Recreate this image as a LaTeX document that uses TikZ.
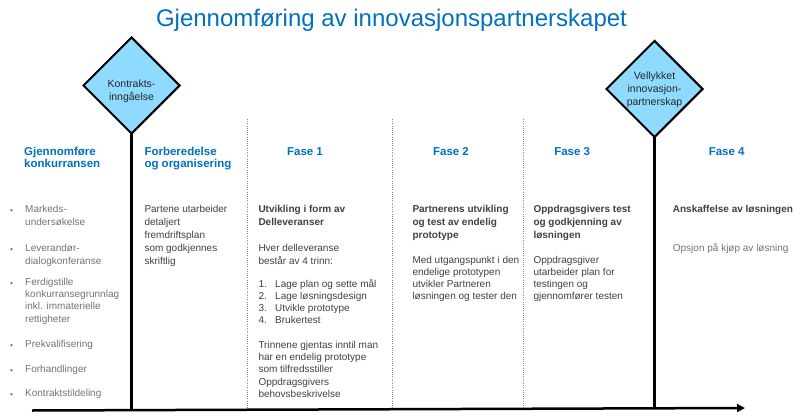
\documentclass[tikz,border=0pt]{standalone}
\usepackage{fontspec}
\setmainfont{Liberation Sans}
\usetikzlibrary{shapes.geometric,arrows.meta}
\definecolor{titleblue}{HTML}{0070C0}
\definecolor{diafill}{HTML}{8FDBFF}
\definecolor{bodygray}{HTML}{404040}
\definecolor{softgray}{HTML}{737373}
\definecolor{dotgray}{HTML}{8C8C8C}
\begin{document}
\begin{tikzpicture}[x=1pt,y=-1pt,
  diam/.style={diamond,draw=black,line width=2pt,fill=diafill,minimum width=97pt,minimum height=97pt,inner sep=0pt},
  dtext/.style={align=center,inner sep=0pt,text=black!85,font=\fontsize{10.5}{13}\selectfont},
  head/.style={inner sep=0pt,align=left,anchor=base west,text=titleblue,font=\fontsize{11.5}{12}\selectfont\bfseries},
  fase/.style={inner sep=0pt,anchor=base,text=titleblue,font=\fontsize{11.5}{12}\selectfont\bfseries},
  body/.style={inner sep=0pt,align=left,anchor=base west,text=bodygray,font=\fontsize{10}{#1}\selectfont},
  body/.default=12.9,
  bbody/.style={body=#1,font=\fontsize{10}{#1}\selectfont\bfseries},
  bbody/.default=12.9,
  soft/.style={inner sep=0pt,align=left,anchor=base west,text=softgray,font=\fontsize{10}{#1}\selectfont},
  soft/.default=13,
  bul/.style={inner sep=0pt,anchor=base,text=softgray,font=\fontsize{8.5}{10}\selectfont},
  milestone/.style={line width=2.5pt,black},
  divider/.style={dotgray,line width=0.8pt,dash pattern=on 0.9pt off 1.3pt}
]
\useasboundingbox (0,0) rectangle (800,417);

% title
\node[inner sep=0pt,anchor=base,text=titleblue,font=\fontsize{24}{28}\selectfont] (title) at (391.5,27) {Gjennomføring av innovasjonspartnerskapet};

% axis
\coordinate (axL) at (32,410.5);
\coordinate (axR) at (745,408);
\draw[line width=2.5pt,-{Triangle[length=8pt,width=8pt]}] (axL) -- (axR);

% milestone lines
\coordinate (m1b) at (131.5,410.3);
\coordinate (m2b) at (654.3,408.2);
\draw[milestone] (131.5,134) -- (m1b);
\draw[milestone] (654.3,137) -- (m2b);

% diamonds
\node[diam] (d1) at (131.5,85.5) {};
\node[dtext] (d1t) at (131.5,91.5) {Kontrakts-\\inngåelse};
\node[diam] (d2) at (654.5,89) {};
\node[dtext] (d2t) at (654.5,89.5) {Vellykket\\innovasjon-\\partnerskap};

% dotted dividers
\foreach \x/\n in {247/a,392.5/b,523.5/c}{
  \coordinate (top\n) at (\x,119);
  \coordinate (bot\n) at (\x,408);
  \draw[divider] (top\n) -- (bot\n);
}

% headings (base = baseline of last line)
\node[head] (h0) at (24,167.7) {Gjennomføre\\konkurransen};
\node[head] (h1) at (144.3,167.7) {Forberedelse\\og organisering};
\node[fase] (f1) at (305,155.7) {Fase 1};
\node[fase] (f2) at (451,155.7) {Fase 2};
\node[fase] (f3) at (572.2,155.7) {Fase 3};
\node[fase] (f4) at (726.7,155.7) {Fase 4};

% column 1
\foreach \y/\n in {212.7/a,251/b,285/c,347.7/d,372.3/e,396.7/f}{
  \node[bul] (bul\n) at (11.7,\y+1.2) {•};
}
\node[soft] (c1a) at (25,225.7) {Markeds-\\undersøkelse};
\node[soft] (c1b) at (25,264) {Leverandør-\\dialogkonferanse};
\node[soft=12.45] (c1c) at (25,322.35) {Ferdigstille\\konkurransegrunnlag\\inkl. immaterielle\\rettigheter};
\node[soft] (c1d) at (25,347.7) {Prekvalifisering};
\node[soft] (c1e) at (25,372.3) {Forhandlinger};
\node[soft] (c1f) at (25,396.7) {Kontraktstildeling};

% column 2
\node[body=12.9] (c2) at (144.3,264.3) {Partene utarbeider\\detaljert\\fremdriftsplan\\som godkjennes\\skriftlig};

% column 3
\node[bbody=13] (c3a) at (258.3,225.7) {Utvikling i form av\\Delleveranser};
\node[body=13] (c3b) at (258.3,264) {Hver delleveranse\\består av 4 trinn:};
\node[body=12.2] (c3n) at (258.3,323.9) {1.\\2.\\3.\\4.};
\node[body=12.2] (c3l) at (275,323.9) {Lage plan og sette mål\\Lage løsningsdesign\\Utvikle prototype\\Brukertest};
\node[body=12.25] (c3c) at (258.3,397.3) {Trinnene gjentas inntil man\\har en endelig prototype\\som tilfredsstiller\\Oppdragsgivers\\behovsbeskrivelse};

% column 4
\node[bbody=12.7] (c4a) at (412.3,238.1) {Partnerens utvikling\\og test av endelig\\prototype};
\node[body=12.2] (c4b) at (412.3,299.6) {Med utgangspunkt i den\\endelige prototypen\\utvikler Partneren\\løsningen og tester den};

% column 5
\node[bbody=12.7] (c5a) at (533.3,238.1) {Oppdragsgivers test\\og godkjenning av\\løsningen};
\node[body=12.2] (c5b) at (533.3,299.6) {Oppdragsgiver\\utarbeider plan for\\testingen og\\gjennomfører testen};

% column 6
\node[bbody] (c6a) at (672.7,212.7) {Anskaffelse av løsningen};
\node[soft] (c6b) at (672.7,251) {Opsjon på kjøp av løsning};
\end{tikzpicture}
\end{document}
